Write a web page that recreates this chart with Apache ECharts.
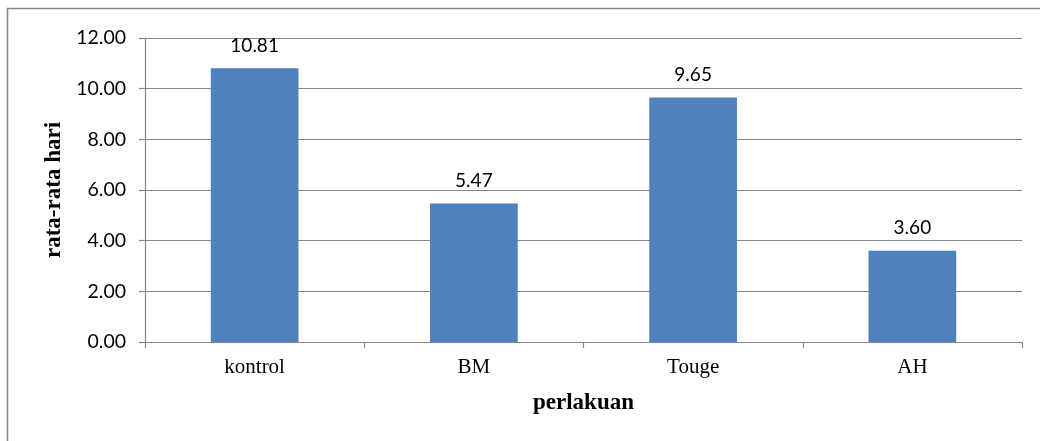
<!DOCTYPE html>
<html><head><meta charset="utf-8">
<script src="https://cdn.jsdelivr.net/npm/echarts@6/dist/echarts.min.js"></script>
<style>html,body{margin:0;padding:0;background:#fff}#c{width:1040px;height:441px}</style>
</head><body><div id="c"></div>
<script>
const categories = ['kontrol', 'BM', 'Touge', 'AH'];
const values = [10.81, 5.47, 9.65, 3.60];
const yTicks = { min: 0, max: 12, interval: 2 };
const xTitle = 'perlakuan';
const yTitle = 'rata-rata hari';

const gray = '#868686';
const chart = echarts.init(document.getElementById('c'), null, { renderer: 'canvas' });
chart.setOption({
  animation: false,
  backgroundColor: '#fff',
  graphic: [{
    type: 'rect', shape: { x: 7.5, y: 8.5, width: 1200, height: 1000 },
    style: { fill: 'none', stroke: gray, lineWidth: 1.5 }, silent: true, z: -1
  }],
  grid: { left: 145, right: 18, top: 38, bottom: 99, containLabel: false },
  xAxis: {
    type: 'category', data: categories,
    name: xTitle, nameLocation: 'middle', nameGap: 50,
    nameTextStyle: { fontFamily: 'Liberation Serif', fontWeight: 'bold', fontSize: 23, color: '#000' },
    axisLine: { lineStyle: { color: gray, width: 1.2 } },
    axisTick: { show: true, length: 6, lineStyle: { color: gray, width: 1.2 } },
    axisLabel: { fontFamily: 'Liberation Serif', fontSize: 21, color: '#000', margin: 15 }
  },
  yAxis: {
    type: 'value', min: yTicks.min, max: yTicks.max, interval: yTicks.interval,
    name: yTitle, nameLocation: 'middle', nameGap: 78, nameRotate: 90,
    nameTextStyle: { fontFamily: 'Liberation Serif', fontWeight: 'bold', fontSize: 23, color: '#000' },
    axisLine: { show: true, lineStyle: { color: gray, width: 1.2 } },
    axisTick: { show: true, length: 6, lineStyle: { color: gray, width: 1.2 } },
    splitLine: { lineStyle: { color: gray, width: 1.2 } },
    axisLabel: { fontFamily: 'Lato', fontSize: 19.5, color: '#000', margin: 19,
      formatter: v => v.toFixed(2) }
  },
  series: [{
    type: 'bar', data: values, barCategoryGap: '60%',
    itemStyle: { color: '#4F81BD' },
    label: { show: true, position: 'top', distance: 13, fontFamily: 'Lato', fontSize: 19, color: '#000',
      formatter: p => p.value.toFixed(2) }
  }]
});
</script></body></html>
